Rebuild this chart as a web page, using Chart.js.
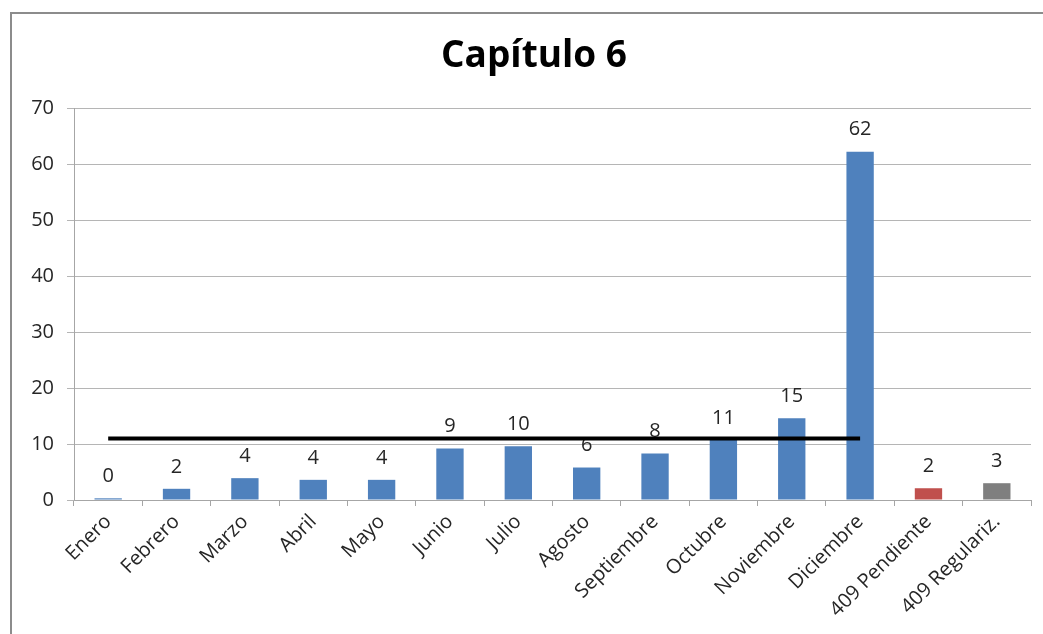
<!DOCTYPE html>
<html>
<head>
<meta charset="utf-8">
<script src="https://cdn.jsdelivr.net/npm/chart.js@4/dist/chart.umd.min.js"></script>
<style>
  html, body { margin: 0; padding: 0; background: #fff; overflow: hidden; width: 1043px; height: 634px; }
  #frame { position: absolute; left: 10px; top: 12px; width: 1100px; height: 700px; border: 2px solid #8c8c8c; }
  #chart { display: block; }
</style>
</head>
<body>
<div id="frame"><canvas id="chart" width="1044" height="620"></canvas></div>
<script>
// data
const categories = ['Enero', 'Febrero', 'Marzo', 'Abril', 'Mayo', 'Junio', 'Julio', 'Agosto',
    'Septiembre', 'Octubre', 'Noviembre', 'Diciembre', '409 Pendiente', '409 Regulariz.'];
const barValues = [0.3, 2.0, 3.9, 3.6, 3.6, 9.2, 9.6, 5.8, 8.3, 10.7, 14.6, 62.2, 2.1, 3.0];
const barLabels = [0, 2, 4, 4, 4, 9, 10, 6, 8, 11, 15, 62, 2, 3];
const barColors = ['#4f81bd', '#4f81bd', '#4f81bd', '#4f81bd', '#4f81bd', '#4f81bd', '#4f81bd',
    '#4f81bd', '#4f81bd', '#4f81bd', '#4f81bd', '#4f81bd', '#c0504d', '#7f7f7f'];
// horizontal reference line across the months
const refLine = [11, 11, 11, 11, 11, 11, 11, 11, 11, 11, 11, 11, null, null];
const yTicks = [0, 10, 20, 30, 40, 50, 60, 70];
const chartTitle = 'Capítulo 6';

Chart.defaults.font.family = "'Open Sans', sans-serif";
Chart.defaults.color = '#262626';

// title is centred a bit right of the canvas middle, so draw it ourselves
const titlePlugin = {
    id: 'offsetTitle',
    afterDraw(chart) {
        const ctx = chart.ctx;
        ctx.save();
        ctx.font = "bold 37px 'Open Sans', sans-serif";
        ctx.fillStyle = '#000';
        ctx.textAlign = 'center';
        ctx.textBaseline = 'middle';
        ctx.fillText(chartTitle, 522, 42);
        ctx.restore();
    }
};

// value labels above the bars (drawn before datasets so the line sits on top)
const barLabelPlugin = {
    id: 'barLabels',
    beforeDatasetsDraw(chart) {
        const ctx = chart.ctx;
        const meta = chart.getDatasetMeta(0);
        ctx.save();
        ctx.font = "20px 'Open Sans', sans-serif";
        ctx.fillStyle = '#262626';
        ctx.textAlign = 'center';
        ctx.textBaseline = 'middle';
        meta.data.forEach((bar, i) => {
            ctx.fillText(String(barLabels[i]), bar.x, bar.y - 22);
        });
        ctx.restore();
    }
};

new Chart(document.getElementById('chart'), {
    type: 'bar',
    data: {
        labels: categories,
        datasets: [{
            type: 'bar',
            data: barValues,
            backgroundColor: barColors,
            barPercentage: 0.4,
            categoryPercentage: 1,
            order: 1
        }, {
            type: 'line',
            data: refLine,
            borderColor: '#000',
            borderWidth: 4,
            pointRadius: 0,
            spanGaps: false,
            order: 0
        }]
    },
    options: {
        responsive: false,
        animation: false,
        layout: { padding: { left: 0, right: 25, top: 94, bottom: 0 } },
        plugins: {
            legend: { display: false },
            tooltip: { enabled: false },
            title: { display: false }
        },
        scales: {
            x: {
                grid: { drawOnChartArea: false, tickLength: 6, color: '#a6a6a6' },
                border: { color: '#a6a6a6' },
                ticks: { maxRotation: 45, minRotation: 45, autoSkip: false, font: { size: 20 }, padding: 4 },
                afterFit: s => { s.height = 134; }
            },
            y: {
                min: 0,
                max: 70,
                afterBuildTicks: s => { s.ticks = yTicks.map(v => ({ value: v })); },
                grid: { color: '#b5b5b5', tickLength: 7 },
                border: { color: '#a6a6a6' },
                ticks: { font: { size: 20 }, padding: 13 },
                afterFit: s => { s.width = 62; }
            }
        }
    },
    plugins: [barLabelPlugin, titlePlugin]
});
</script>
</body>
</html>
